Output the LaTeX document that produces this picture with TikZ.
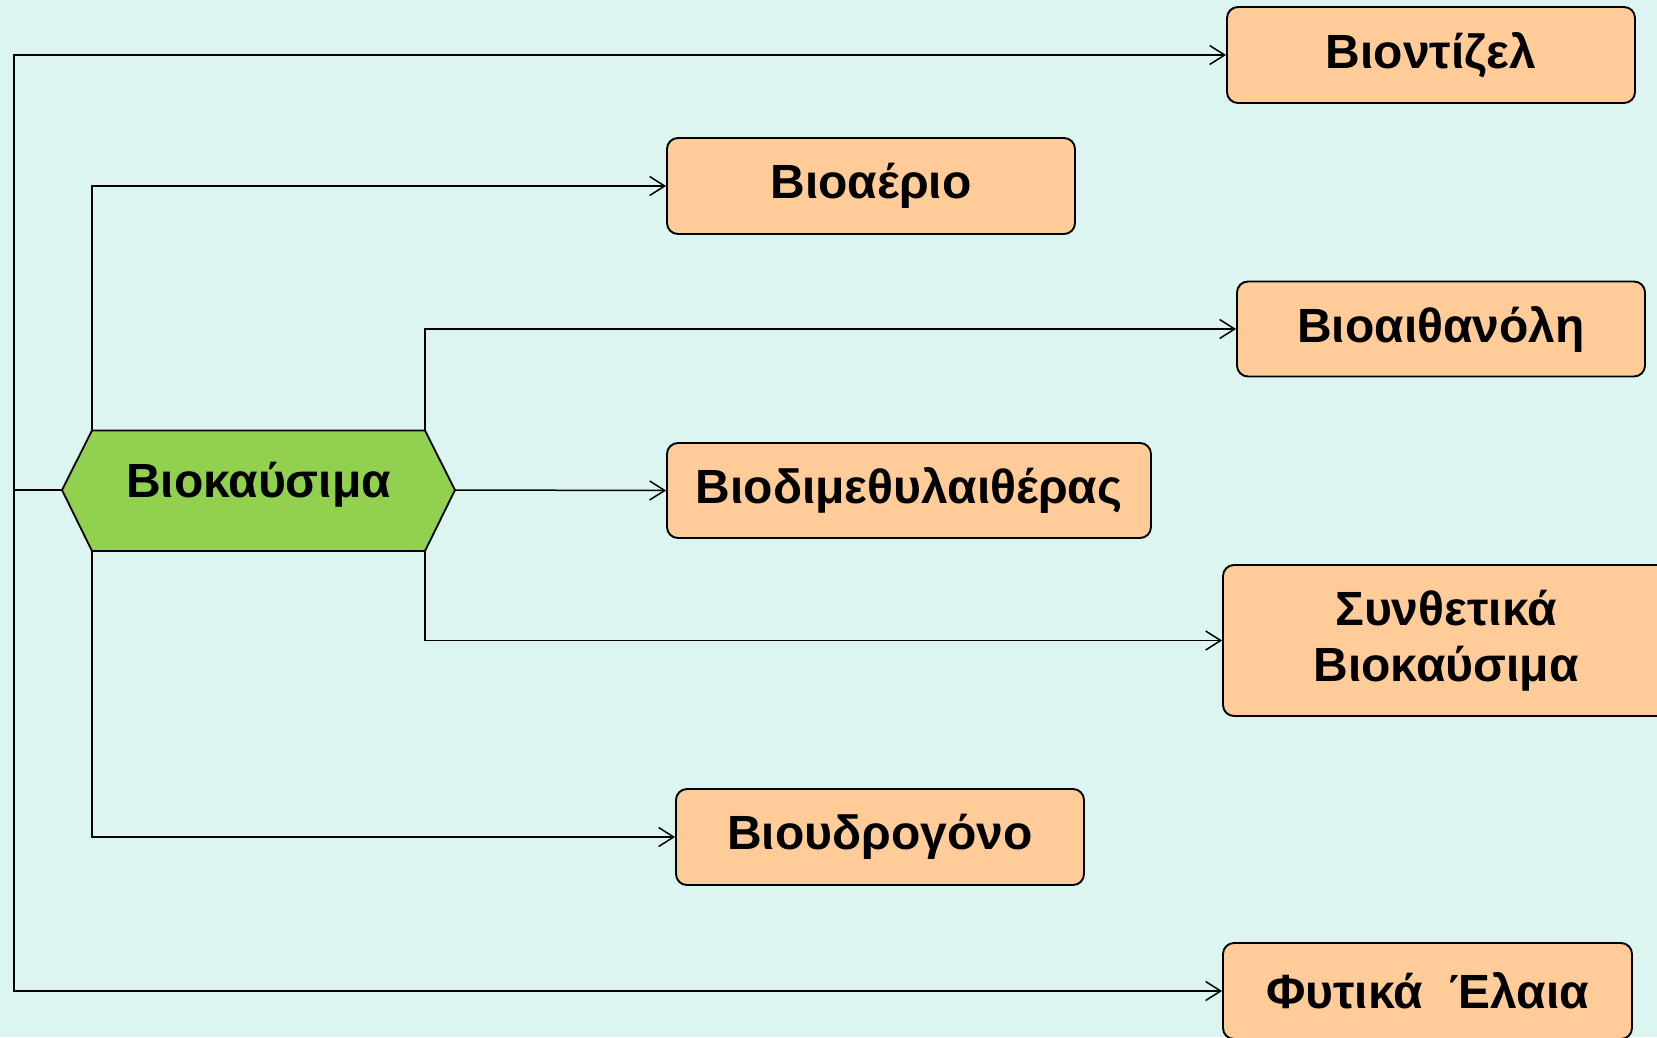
\documentclass[tikz,border=0pt]{standalone}
\usepackage{fontspec}
\setmainfont{Liberation Sans}
\usetikzlibrary{arrows.meta}
\definecolor{bgc}{RGB}{220,245,241}
\definecolor{peach}{RGB}{255,204,153}
\definecolor{leaf}{RGB}{146,208,80}
\tikzset{
  box/.style={draw=black, fill=peach, rounded corners=11pt, line width=1.9pt,
    inner sep=0pt, align=center, font=\fontsize{48}{56}\selectfont\bfseries},
  hexshape/.style={draw=black, fill=leaf, line width=1.8pt},
  conn/.style={draw=black, line width=1.5pt, -{Straight Barb[length=15pt,width=19pt,line width=1.5pt]}},
  plain/.style={draw=black, line width=1.5pt}
}
\begin{document}
\begin{tikzpicture}[x=1pt,y=-1pt]
\fill[bgc] (0,0) rectangle (1657,1037);
\useasboundingbox (0,0) rectangle (1657,1037);
% boxes
\node[box, minimum width=408pt, minimum height=96pt] (bd) at (1431,55) {Βιοντίζελ};
\node[box, minimum width=408pt, minimum height=96pt] (ba) at (871,186) {Βιοαέριο};
\node[box, minimum width=408pt, minimum height=95pt] (bth) at (1441,329) {Βιοαιθανόλη};
\node[box, minimum width=484pt, minimum height=95pt] (bdme) at (909,490.5) {Βιοδιμεθυλαιθέρας};
\node[box, minimum width=446pt, minimum height=151pt] (syn) at (1446,640.5) {Συνθετικά\\Βιοκαύσιμα};
\node[box, minimum width=408pt, minimum height=96pt] (bh) at (880,837) {Βιουδρογόνο};
\node[box, minimum width=409pt, minimum height=96pt] (fe) at (1427.5,991) {Φυτικά \ Έλαια};
% hexagon
\coordinate (hw) at (62,490);
\coordinate (hnw) at (92,430.5);
\coordinate (hne) at (425,430.5);
\coordinate (he) at (455,490);
\coordinate (hse) at (425,551);
\coordinate (hsw) at (92,551);
\coordinate (lft) at (14,490);
\path[hexshape] (hw) -- (hnw) -- (hne) -- (he) -- (hse) -- (hsw) -- cycle;
\node[font=\fontsize{48}{56}\selectfont\bfseries] (bio) at (258.5,485) {Βιοκαύσιμα};
% connectors
\draw[plain] (hw) -- (lft);
\draw[conn] (lft) |- (bd.west);
\draw[conn] (lft) |- (fe.west);
\draw[conn] (hnw) |- (ba.west);
\draw[conn] (hsw) |- (bh.west);
\draw[conn] (hne) |- (bth.west);
\draw[conn] (hse) |- (syn.west);
\draw[conn] (he) -- (bdme.west);
\end{tikzpicture}
\end{document}
